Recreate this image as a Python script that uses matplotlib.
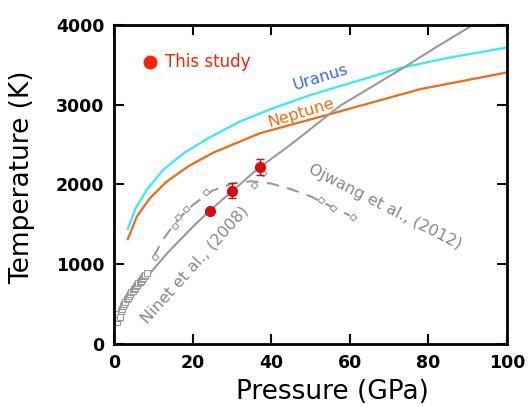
import matplotlib
matplotlib.use("Agg")
import matplotlib.pyplot as plt
from matplotlib import font_manager

# planetary isentropes
uranus_p = [3.5, 5.5, 8.3, 12.5, 18, 24, 32, 40.5, 50, 60, 72.8, 84.6, 100]
uranus_t = [1442, 1700, 1930, 2182, 2400, 2579, 2787, 2955, 3120, 3268, 3457, 3582, 3715]
neptune_p = [3.5, 5.8, 9, 13.2, 19, 25.3, 37.2, 55.8, 77.9, 100]
neptune_t = [1313, 1596, 1820, 2027, 2230, 2399, 2642, 2892, 3193, 3403]

# Ninet et al. (2008) melting curve
ninet_p = [0.7, 2, 3.2, 5.5, 9.2, 13.4, 16.8, 20.5, 24.4, 30.4, 36.7, 45, 57.5, 73.5, 82, 91.4]
ninet_t = [300, 430, 550, 700, 886, 1130, 1304, 1490, 1672, 1930, 2200, 2500, 2984, 3457, 3720, 4000]
ninet_sq_p = [0.7, 0.9, 1.1, 1.4, 1.7, 2.0, 2.3, 2.6, 2.9, 3.2, 3.5, 3.8, 4.1, 4.4, 4.7, 5.0,
              5.3, 5.6, 5.9, 6.2, 6.5, 6.8, 7.1, 7.4, 7.7, 8.0, 8.3]
ninet_sq_t = [280, 330, 370, 340, 410, 440, 480, 500, 530, 560, 580, 600, 620, 650, 660, 690,
              700, 720, 740, 760, 780, 790, 810, 830, 850, 870, 890]

# Ojwang et al. (2012)
ojwang_p = [10.4, 15.5, 16.4, 18.3, 23.5, 30.2, 35.6, 37.9, 52.8, 55.8, 60.9]
ojwang_t = [1087, 1480, 1589, 1689, 1900, 1910, 1994, 2140, 1806, 1702, 1596]
ojwang_fit_p = [10, 12.5, 15, 17.5, 20, 25, 30, 35, 40, 45, 50, 55, 60]
ojwang_fit_t = [1090, 1310, 1480, 1620, 1740, 1920, 2010, 2040, 2010, 1940, 1850, 1730, 1610]

# this study
study_p = [24.4, 30.1, 37.2]
study_t = [1672, 1922, 2216]
study_err = [0, 95, 100]

# narrow bold font for the tick numbers if we have it
try:
    font_manager.findfont("Liberation Sans Narrow", fallback_to_default=False)
    tick_font, tick_size = "Liberation Sans Narrow", 15
except ValueError:
    tick_font, tick_size = "DejaVu Sans", 12.5

gray = "#9a9a9a"
fig = plt.figure(figsize=(5.28, 4.07), dpi=100)
ax = fig.add_axes([0.216, 0.155, 0.744, 0.784])

ax.plot(uranus_p, uranus_t, color="#33ecf8", lw=1.6)
ax.plot(neptune_p, neptune_t, color="#f26a10", lw=1.6)
ax.plot(ninet_p, ninet_t, color=gray, lw=1.5)
ax.plot(ninet_sq_p, ninet_sq_t, ls="none", marker="s", ms=4, mfc="white", mec=gray, mew=0.8)
ax.plot(ojwang_fit_p, ojwang_fit_t, color=gray, lw=1.5, ls=(0, (6, 4)))
ax.plot(ojwang_p, ojwang_t, ls="none", marker="D", ms=3.5, mfc="white", mec=gray, mew=0.8)
ax.errorbar(study_p, study_t, yerr=study_err, fmt="o", ms=7, color="#dd0a0a",
            ecolor="#dd0a0a", elinewidth=1, capsize=3, zorder=5)

ax.plot([9.2], [3536], "o", ms=9, color="#ff2200", clip_on=False)
ax.text(13.0, 3536, "This study", color="#ff2200", fontsize=12, va="center")
ax.text(52.5, 3340, "Uranus", color="#3366ff", fontsize=11.5, rotation=17, ha="center", va="center")
ax.text(47.5, 2900, "Neptune", color="#f26a10", fontsize=11.5, rotation=17, ha="center", va="center")
ax.text(69, 1720, "Ojwang et al., (2012)", color="#888888", fontsize=11.5, rotation=-27,
        ha="center", va="center")
ax.text(20.6, 990, "Ninet et al., (2008)", color="#888888", fontsize=11.5, rotation=48,
        ha="center", va="center")

ax.set_xlim(0, 100)
ax.set_ylim(0, 4000)
ax.set_xticks([0, 20, 40, 60, 80, 100])
ax.set_yticks([0, 1000, 2000, 3000, 4000])
ax.tick_params(direction="in", length=7, width=1.5, top=True, right=True, pad=7)
for lab in ax.get_xticklabels() + ax.get_yticklabels():
    lab.set_fontfamily(tick_font)
    lab.set_fontweight("bold")
    lab.set_fontsize(tick_size)
for s in ax.spines.values():
    s.set_linewidth(2)

ax.set_xlabel("Pressure (GPa)", fontsize=19, va="center")
ax.set_ylabel("Temperature (K)", fontsize=19, va="center")
ax.xaxis.set_label_coords(0.557, -0.152)
ax.yaxis.set_label_coords(-0.234, 0.523)

fig.savefig("out.png", dpi=100)
